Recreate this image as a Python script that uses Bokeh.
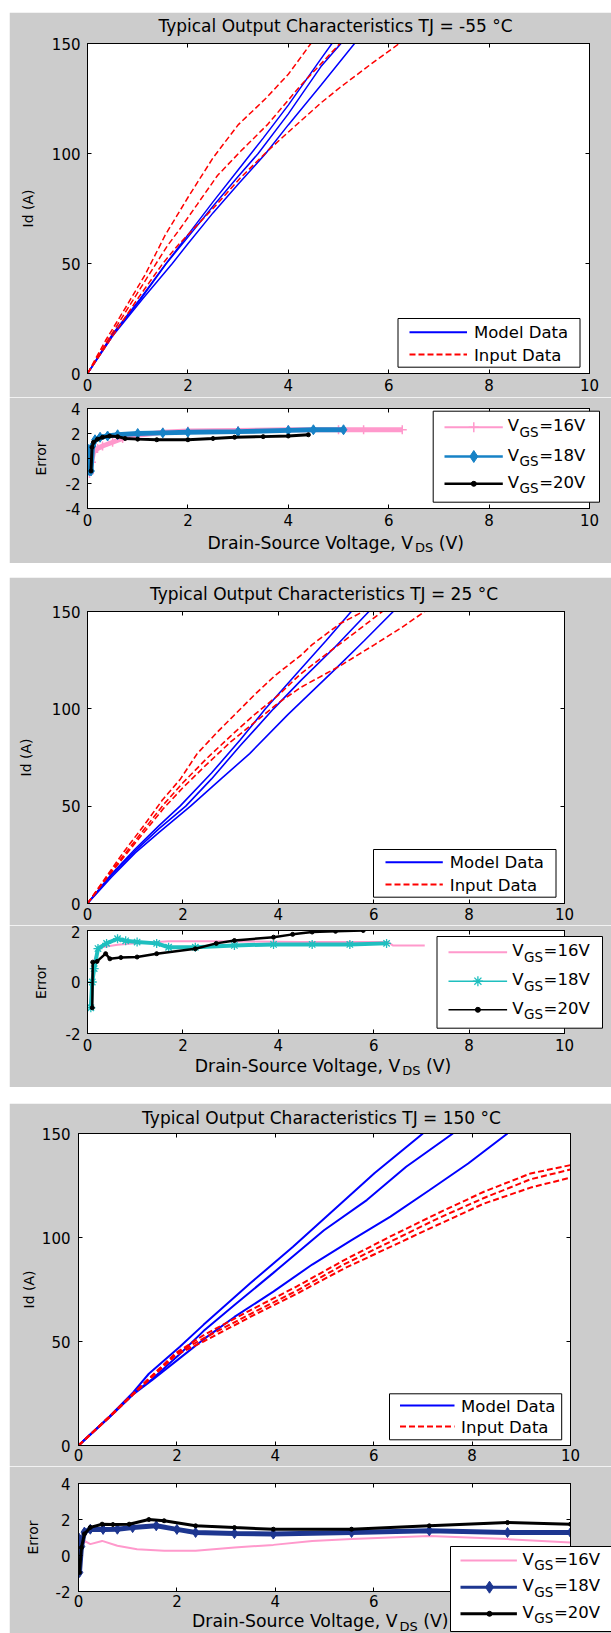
from bokeh.core.properties import value
from bokeh.embed import file_html
from bokeh.layouts import column, row
from bokeh.models import (CustomJSTickFormatter, FixedTicker, GridBox, LinearAxis, Range1d,
                          Spacer)
from bokeh.plotting import figure
from bokeh.resources import INLINE

# ---------------------------------------------------------------- data ----
vds_ticks = [0, 2, 4, 6, 8, 10]
id_ticks = [0, 50, 100, 150]
err_ticks_m55 = [-4, -2, 0, 2, 4]
err_ticks_25 = [-2, 0, 2]
err_ticks_150 = [-2, 0, 2, 4]

title_m55 = "Typical Output Characteristics TJ = -55 °C"
title_25 = "Typical Output Characteristics TJ = 25 °C"
title_150 = "Typical Output Characteristics TJ = 150 °C"
series_names = ["Model Data", "Input Data"]
vgs_names = ["16V", "18V", "20V"]

# Tj = -55 °C : drain current (A) against V_DS (V)
m55_model_a_v = [0, 0.5, 1.05, 1.5, 2.0, 2.5, 3.0, 3.5, 4.0, 4.65, 4.87]
m55_model_a_id = [0, 18, 34, 48, 63, 78, 92.5, 107, 122, 143, 150]
m55_model_b_v = [0, 0.5, 1.05, 1.57, 2.0, 2.5, 3.0, 3.4, 4.0, 4.65, 5.05]
m55_model_b_id = [0, 17.5, 33.5, 50, 62, 76, 89.5, 100, 118, 139.5, 150]
m55_model_c_v = [0, 0.5, 1.1, 1.69, 2.0, 2.5, 3.0, 3.55, 4.0, 4.65, 5.32]
m55_model_c_id = [0, 17, 34, 50, 59, 73, 86, 100, 113, 131, 150]
m55_input_a_v = [0, 0.36, 0.76, 1.15, 1.55, 2.0, 2.5, 3.0, 3.55, 4.0, 4.45]
m55_input_a_id = [0, 15, 30, 45, 63, 80, 98, 113, 125, 136, 150]
m55_input_b_v = [0, 0.4, 0.8, 1.2, 1.59, 1.85, 2.19, 2.59, 3.05, 3.58, 4.25, 5.03]
m55_input_b_id = [0, 15, 29.5, 44, 58, 66, 77, 90, 101, 113, 131, 150]
m55_input_c_v = [0, 0.5, 1.0, 1.5, 1.79, 2.5, 3.05, 3.58, 4.11, 4.65, 5.03, 5.61, 6.21]
m55_input_c_id = [0, 17, 34, 50, 58, 75, 89, 101, 112, 123, 130, 140, 150]

# Tj = -55 °C : error per gate voltage
m55_err16_v = [0.04, 0.08, 0.12, 0.2, 0.3, 0.5, 0.7, 1.0, 1.5, 2.0, 3.0, 4.0, 5.0, 5.5, 6.27]
m55_err16 = [-1.2, -0.3, 0.5, 0.8, 1.0, 1.3, 1.6, 1.85, 2.1, 2.2, 2.25, 2.3, 2.3, 2.3, 2.3]
m55_err18_v = [0.0, 0.04, 0.07, 0.1, 0.15, 0.25, 0.4, 0.6, 1.0, 1.5, 2.0, 3.0, 4.0, 4.5, 5.1]
m55_err18 = [0.8, -1.0, -1.0, 1.0, 1.5, 1.7, 1.8, 1.9, 2.0, 2.05, 2.1, 2.15, 2.25, 2.3, 2.3]
m55_err20_v = [0.07, 0.09, 0.12, 0.2, 0.3, 0.44, 0.6, 0.75, 1.0, 1.38, 2.0, 2.5, 2.93, 3.5, 4.0, 4.4]
m55_err20 = [-1.0, 0.9, 1.3, 1.55, 1.7, 1.8, 1.75, 1.6, 1.55, 1.5, 1.5, 1.6, 1.7, 1.75, 1.8, 1.9]

# Tj = 25 °C : drain current (A) against V_DS (V)
p25_model_a_v = [0, 0.5, 1.0, 1.5, 1.94, 2.6, 3.2, 3.73, 4.47, 5.0, 5.53]
p25_model_a_id = [0, 15, 28, 40, 50, 67, 84, 100, 120.5, 135, 150]
p25_model_b_v = [0, 0.5, 1.0, 1.5, 2.06, 2.6, 3.2, 3.9, 4.47, 5.2, 5.9]
p25_model_b_id = [0, 14.5, 27, 38.5, 50, 64, 81, 100, 114.5, 132, 150]
p25_model_c_v = [0, 0.5, 1.0, 1.5, 2.16, 2.8, 3.4, 4.2, 5.2, 5.8, 6.41]
p25_model_c_id = [0, 13.5, 26, 36.5, 50, 64, 77, 97, 120.5, 135, 150]
p25_input_a_v = [0, 0.4, 0.76, 1.18, 1.565, 1.95, 2.3, 2.72, 3.07, 3.56, 3.95, 4.47, 4.71, 5.29, 5.78]
p25_input_a_id = [0, 14, 26.5, 40, 53, 64, 77, 88, 96.6, 108.6, 117.5, 127.4, 133, 143.7, 150]
p25_input_b_v = [0, 0.4, 0.8, 1.2, 1.6, 2.0, 2.5, 3.0, 3.5, 4.0, 4.47, 5.0, 5.6, 6.18]
p25_input_b_id = [0, 13.5, 26, 38.5, 51, 62, 74.5, 86, 97, 107, 118, 128, 139, 150]
p25_input_c_v = [0, 0.4, 0.8, 1.2, 1.6, 2.0, 2.5, 3.0, 3.5, 4.0, 4.47, 5.29, 6.02, 6.6, 7.07]
p25_input_c_id = [0, 13, 25, 37, 49, 59.5, 71.5, 83, 93, 103, 111, 122, 133, 142, 150]

# Tj = 25 °C : error per gate voltage
p25_err16_v = [0.06, 0.1, 0.14, 0.22, 0.3, 0.63, 1.0, 1.45, 1.7, 2.5, 3.5, 4.5, 5.5, 6.3, 6.4, 7.07]
p25_err16 = [-1.0, 0.2, 0.84, 1.2, 1.35, 1.45, 1.5, 1.55, 1.58, 1.58, 1.57, 1.55, 1.55, 1.55, 1.42, 1.42]
p25_err18_v = [0.07, 0.1, 0.14, 0.22, 0.4, 0.63, 0.8, 1.04, 1.45, 1.7, 2.26, 3.08, 3.9, 4.71, 5.5, 6.27]
p25_err18 = [-1.0, 0.0, 0.52, 1.3, 1.5, 1.68, 1.6, 1.55, 1.5, 1.35, 1.35, 1.42, 1.46, 1.46, 1.46, 1.5]
p25_err20_v = [0.1, 0.11, 0.2, 0.38, 0.47, 0.7, 1.04, 1.45, 2.26, 2.7, 3.08, 3.9, 4.3, 4.71, 5.2, 5.78]
p25_err20 = [-1.0, 0.77, 0.8, 1.1, 0.9, 0.95, 0.97, 1.1, 1.29, 1.5, 1.61, 1.74, 1.85, 1.94, 1.97, 2.0]

# Tj = 150 °C : drain current (A) against V_DS (V)
p150_model_a_v = [0, 0.63, 1.11, 1.43, 2.06, 2.54, 3.49, 4.36, 5.39, 6.02, 7.0]
p150_model_a_id = [0, 14, 25.5, 34.5, 47.5, 58, 78, 95.5, 117.5, 131, 150]
p150_model_b_v = [0, 0.63, 1.11, 1.5, 2.06, 2.54, 3.17, 3.96, 4.99, 5.86, 6.66, 7.61]
p150_model_b_id = [0, 13.8, 25, 32, 44, 55, 67.5, 83, 103.5, 118, 134, 150]
p150_model_c_v = [0, 0.63, 1.11, 1.5, 2.06, 2.54, 3.17, 3.96, 4.75, 5.55, 6.34, 7.13, 7.92, 8.72]
p150_model_c_id = [0, 13.6, 24.5, 31.5, 42, 51, 61.8, 74, 87, 98.7, 110, 122.7, 135.6, 150]
p150_input_v = [0, 0.63, 1.11, 1.98, 2.54, 3.49, 4.44, 5.39, 6.34, 7.29, 8.24, 9.19, 10.0]
p150_input_a_id = [0, 14, 25, 44.5, 53, 65, 76.5, 89, 100.5, 111.5, 122, 130.8, 134.8]
p150_input_b_id = [0, 13.8, 24.8, 44, 51.5, 63.2, 74.5, 87, 98, 109, 119, 128, 132.7]
p150_input_c_id = [0, 13.6, 24.5, 43.5, 50, 61.8, 73, 85, 95.5, 106, 116.3, 124, 128.8]

# Tj = 150 °C : error per gate voltage
p150_err16_v = [0.06, 0.12, 0.24, 0.48, 0.79, 1.19, 1.74, 2.38, 3.17, 3.96, 4.75, 5.55, 6.34, 7.13, 7.92, 8.72, 10.0]
p150_err16 = [0.3, 0.81, 0.63, 0.81, 0.54, 0.35, 0.26, 0.26, 0.44, 0.59, 0.81, 0.91, 1.0, 1.09, 1.0, 0.91, 0.72]
p150_err18_v = [0.0, 0.02, 0.06, 0.12, 0.24, 0.5, 0.79, 1.1, 1.58, 2.0, 2.38, 3.17, 3.96, 5.55, 7.13, 8.72, 10.0]
p150_err18 = [1.0, -0.94, 0.5, 1.3, 1.46, 1.45, 1.46, 1.55, 1.65, 1.45, 1.28, 1.22, 1.19, 1.28, 1.37, 1.28, 1.28]
p150_err20_v = [0.02, 0.06, 0.12, 0.24, 0.48, 0.7, 1.03, 1.43, 1.74, 2.38, 3.17, 3.96, 5.55, 7.13, 8.72, 10.0]
p150_err20 = [-0.94, 0.44, 1.2, 1.56, 1.74, 1.72, 1.74, 2.0, 1.93, 1.65, 1.55, 1.46, 1.46, 1.65, 1.83, 1.74]

# ---------------------------------------------------------------- style ----
FONT = "DejaVu Sans"
PANEL_BG = "#cccccc"
MODEL_BLUE = "#0000ff"
INPUT_RED = "#ff0000"
PINK = "#ff99cc"
STEEL = "#1782c6"
CYAN = "#1fbfbf"
NAVY = "#1d3690"
PAGE_W, PAGE_H = 611, 1633
PAGE_LEFT = 9  # white strip left of the grey panels


def style_axis(ax, ticks, standoff):
    ax.ticker = FixedTicker(ticks=ticks)
    ax.major_label_overrides = {t: str(t) for t in ticks}  # plain hyphen for negatives
    ax.major_tick_in = 4
    ax.major_tick_out = 0
    ax.minor_tick_line_color = None
    ax.axis_line_color = "black"
    ax.major_tick_line_color = "black"
    ax.major_label_standoff = standoff
    ax.major_label_text_font = FONT
    ax.major_label_text_font_size = "15px"
    ax.major_label_text_color = "black"


def blank_axis(ticks):
    return LinearAxis(ticker=FixedTicker(ticks=ticks),
                      formatter=CustomJSTickFormatter(code="return ''"),
                      major_tick_in=4, major_tick_out=0, minor_tick_line_color=None,
                      major_label_standoff=0, major_label_text_font_size="1px",
                      axis_line_color="black", major_tick_line_color="black")


def make_axes(height, borders, y_range, yticks, ylabel, ylabel_standoff, x_standoff, y_standoff):
    left, right, top, bottom = borders
    p = figure(width=602, height=height, x_range=Range1d(0, 10), y_range=Range1d(*y_range),
               output_backend="svg", toolbar_location=None, tools="",
               min_border_left=left, min_border_right=right,
               min_border_top=top, min_border_bottom=bottom,
               background_fill_color="white", border_fill_color=PANEL_BG,
               outline_line_color="black", outline_line_width=1)
    p.xgrid.visible = False
    p.ygrid.visible = False
    style_axis(p.xaxis[0], vds_ticks, x_standoff)
    style_axis(p.yaxis[0], yticks, y_standoff)
    ya = p.yaxis[0]
    ya.axis_label = ylabel
    ya.axis_label_text_font = FONT
    ya.axis_label_text_font_size = "14px"
    ya.axis_label_text_font_style = "normal"
    ya.axis_label_text_color = "black"
    ya.axis_label_standoff = ylabel_standoff
    p.add_layout(blank_axis(vds_ticks), "above")
    p.add_layout(blank_axis(yticks), "right")
    return p


def draw_model_input(p, model, inputs, width):
    for v, i in model:
        p.line(v, i, line_color=MODEL_BLUE, line_width=width)
    for v, i in inputs:
        p.line(v, i, line_color=INPUT_RED, line_width=width, line_dash="6 3")


# ------------------------------------------- overlay for titles & legends ----
# A transparent sheet the size of the page, in page-pixel coordinates (y down),
# carrying the titles, the x-axis captions with subscripts and the legends.
sheet = figure(width=PAGE_W, height=PAGE_H, x_range=Range1d(0, PAGE_W),
               y_range=Range1d(PAGE_H, 0), x_axis_type=None, y_axis_type=None,
               output_backend="svg", toolbar_location=None, tools="",
               min_border=0, background_fill_color=None, border_fill_color=None,
               outline_line_color=None)


def s_text(px, py, s, size, align="left"):
    sheet.text(x=[px], y=[py], text=[s], text_font=value(FONT),
               text_font_size=value(f"{size}px"), text_align=align,
               text_baseline="middle", text_color="black")


def s_box(x0, y0, x1, y1):
    sheet.quad(left=[x0], right=[x1], top=[y0], bottom=[y1],
               fill_color="white", line_color="black", line_width=1)


def s_line(x0, x1, y, color, width, dash="solid"):
    sheet.line([x0, x1], [y, y], line_color=color, line_width=width, line_dash=dash)


MARKERS = {"plus": ("cross", 10, 1.5), "diamond": ("diamond", 12, 1),
           "asterisk": ("asterisk", 10, 1.3), "dot": ("circle", 5, 1)}


def s_marker(kind, x, y, color):
    marker, size, lw = MARKERS[kind]
    sheet.scatter([x], [y], marker=marker, size=size, line_color=color,
                  fill_color=color, line_width=lw)


def main_legend(box, line_x, rows, text_x):
    s_box(*box)
    s_line(line_x[0], line_x[1], rows[0], MODEL_BLUE, 2)
    s_line(line_x[0], line_x[1], rows[1], INPUT_RED, 2, "6 3")
    s_text(text_x, rows[0] + 0.5, series_names[0], 16.5)
    s_text(text_x, rows[1] + 0.5, series_names[1], 16.5)


def vgs_label(x, row_y, vgs):
    s_text(x, row_y - 1.5, "V", 16.5)
    s_text(x + 11.8, row_y + 4.5, "GS", 13.5)
    s_text(x + 11.8 + 19.6, row_y - 1.5, "=" + vgs, 16.5)


def err_legend(box, line_x, marker_x, rows, text_x, entries):
    s_box(*box)
    for (color, kind, lw), y, name in zip(entries, rows, vgs_names):
        s_line(line_x[0], line_x[1], y, color, lw)
        if kind is not None:
            s_marker(kind, marker_x, y, color)
        vgs_label(text_x, y, name)


def vds_label(center_x, center_y):
    size, sub = 17.3, 13
    w_main = 11.99 * size
    w_sub = 1.405 * sub
    w_gap = 0.318 * size
    w_tail = 1.464 * size
    x0 = center_x - (w_main + w_sub + w_gap + w_tail) / 2
    s_text(x0, center_y, "Drain-Source Voltage, V", size)
    s_text(x0 + w_main, center_y + 5, "DS", sub)
    s_text(x0 + w_main + w_sub + w_gap, center_y, "(V)", size)


# ------------------------------------------------------ Tj = -55 °C panel ----
m55_main = make_axes(385, (78, 22, 31, 24), (0, 150), id_ticks, "Id (A)", 13, 5, 7)
draw_model_input(m55_main,
                 [(m55_model_a_v, m55_model_a_id), (m55_model_b_v, m55_model_b_id),
                  (m55_model_c_v, m55_model_c_id)],
                 [(m55_input_a_v, m55_input_a_id), (m55_input_b_v, m55_input_b_id),
                  (m55_input_c_v, m55_input_c_id)], 1.5)

m55_err = make_axes(166, (78, 22, 11, 55), (-4, 4), err_ticks_m55, "Error", 14, 5, 7)
m55_err.line(m55_err16_v, m55_err16, line_color=PINK, line_width=5)
m55_err.scatter(m55_err16_v, m55_err16, marker="cross", size=9, line_color=PINK, line_width=1.5)
m55_err.line(m55_err18_v, m55_err18, line_color=STEEL, line_width=5)
m55_err.scatter(m55_err18_v, m55_err18, marker="diamond", size=10, fill_color=STEEL, line_color=STEEL)
m55_err.line(m55_err20_v, m55_err20, line_color="black", line_width=3)
m55_err.scatter(m55_err20_v, m55_err20, marker="circle", size=4, fill_color="black", line_color="black")

s_text(335, 25.2, title_m55, 17, align="center")
main_legend((397.5, 318, 579.5, 366.7), (409, 466.5), (331.7, 354), 473.5)
err_legend((432.7, 410.7, 599, 501.7), (444, 502.3), 473.3, (426.7, 456, 483.3), 507.3,
           [(PINK, "plus", 2), (STEEL, "diamond", 2.5), ("black", "dot", 2.5)])
vds_label(335.25, 542.2)

# ------------------------------------------------------- Tj = 25 °C panel ----
p25_main = make_axes(348, (78, 47, 34, 22), (0, 150), id_ticks, "Id (A)", 15, 4, 7)
draw_model_input(p25_main,
                 [(p25_model_a_v, p25_model_a_id), (p25_model_b_v, p25_model_b_id),
                  (p25_model_c_v, p25_model_c_id)],
                 [(p25_input_a_v, p25_input_a_id), (p25_input_b_v, p25_input_b_id),
                  (p25_input_c_v, p25_input_c_id)], 1.6)

p25_err = make_axes(162, (78, 47, 5, 54), (-2, 2), err_ticks_25, "Error", 14, 5, 7)
p25_err.line(p25_err16_v, p25_err16, line_color=PINK, line_width=2)
p25_err.line(p25_err18_v, p25_err18, line_color=CYAN, line_width=4)
p25_err.scatter(p25_err18_v, p25_err18, marker="asterisk", size=9, line_color=CYAN, line_width=1.3)
p25_err.line(p25_err20_v, p25_err20, line_color="black", line_width=2.5)
p25_err.scatter(p25_err20_v, p25_err20, marker="circle", size=4, fill_color="black", line_color="black")

s_text(323.5, 593.3, title_25, 17, align="center")
main_legend((373, 849, 555.5, 896.7), (385, 442.3), (861.7, 884), 449.3)
err_legend((436.5, 936, 602, 1027.7), (448, 506.6), 477.4, (951.7, 980.7, 1009.3), 511.7,
           [(PINK, None, 2), (CYAN, "asterisk", 1.5), ("black", "dot", 1.5)])
vds_label(322.5, 1065)

# ------------------------------------------------------ Tj = 150 °C panel ----
p150_main = make_axes(363, (69, 41, 30, 21), (0, 150), id_ticks, "Id (A)", 2, 3, 8)
draw_model_input(p150_main,
                 [(p150_model_a_v, p150_model_a_id), (p150_model_b_v, p150_model_b_id),
                  (p150_model_c_v, p150_model_c_id)],
                 [(p150_input_v, p150_input_a_id), (p150_input_v, p150_input_b_id),
                  (p150_input_v, p150_input_c_id)], 2)

p150_err = make_axes(167, (69, 41, 17, 42), (-2, 4), err_ticks_150, "Error", 12, 3, 8)
p150_err.line(p150_err16_v, p150_err16, line_color=PINK, line_width=2)
p150_err.line(p150_err18_v, p150_err18, line_color=NAVY, line_width=5)
p150_err.scatter(p150_err18_v, p150_err18, marker="diamond", size=10, fill_color=NAVY, line_color=NAVY)
p150_err.line(p150_err20_v, p150_err20, line_color="black", line_width=3)
p150_err.scatter(p150_err20_v, p150_err20, marker="circle", size=4, fill_color="black", line_color="black")

s_text(321, 1117.5, title_150, 17, align="center")
main_legend((389, 1393.3, 561.2, 1439.3), (399.5, 454), (1405, 1426), 460.6)
err_legend((450, 1546, 616, 1631), (460, 516.4), 489, (1560, 1586.7, 1613.3), 522,
           [(PINK, None, 2), (NAVY, "diamond", 3), ("black", "dot", 3)])
vds_label(319.8, 1620.8)


# ------------------------------------------------------------------ page ----
def indented(fig):
    return row(Spacer(width=PAGE_LEFT, height=fig.height), fig, spacing=0)


panels = column(
    Spacer(width=PAGE_W, height=12),
    indented(m55_main), indented(m55_err),
    Spacer(width=PAGE_W, height=14),
    indented(p25_main), indented(p25_err),
    Spacer(width=PAGE_W, height=16),
    indented(p150_main), indented(p150_err),
    spacing=0,
)

# both children share the same grid cell, so the sheet lies over the panels
page = GridBox(children=[(panels, 0, 0), (sheet, 0, 0)], spacing=0)

open("out.html", "w").write(file_html(page, INLINE))
